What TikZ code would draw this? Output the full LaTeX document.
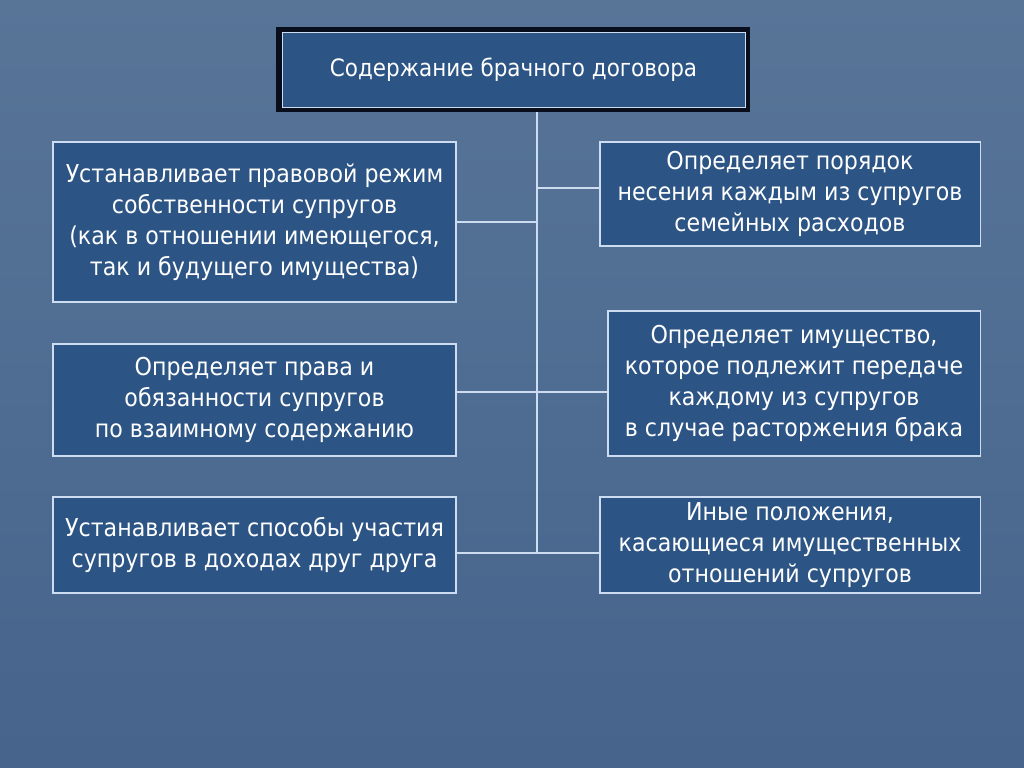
\documentclass[tikz,border=0pt]{standalone}
\usepackage{fontspec}
\setmainfont[FakeStretch=0.9]{DejaVu Sans}
\usetikzlibrary{calc}

\definecolor{slidetop}{RGB}{88,117,152}
\definecolor{slidebot}{RGB}{70,100,140}
\definecolor{boxfill}{RGB}{44,84,132}
\definecolor{boxline}{RGB}{205,220,240}
\definecolor{titleframe}{RGB}{8,14,28}

\tikzset{
  itembox/.style={draw=boxline, line width=0.8pt, fill=boxfill, text=white,
    align=center, inner sep=0pt, font=\fontsize{17.5}{22}\selectfont},
  titlebox/.style={itembox, line width=0.5pt, font=\fontsize{17}{20}\selectfont},
  link/.style={draw=boxline, line width=1pt}
}

\begin{document}
\begin{tikzpicture}[x=0.025cm, y=-0.025cm]
    % slide background
    \shade[top color=slidetop, bottom color=slidebot] (0,0) rectangle (1024,768);
    \useasboundingbox (0,0) rectangle (1024,768);

    % title with dark frame
    \fill[titleframe] (276,27) rectangle (750,112);
    \node[titlebox, minimum width=11.575cm, minimum height=1.875cm] (title) at (513.5,69.5) {Содержание брачного договора};

    % left column
    \node[itembox, minimum width=10.075cm, minimum height=4cm] (l1) at (254.5,222)
        {Устанавливает правовой режим\\собственности супругов\\(как в отношении имеющегося,\\так и будущего имущества)};
    \node[itembox, minimum width=10.075cm, minimum height=2.8cm] (l2) at (254.5,400)
        {Определяет права и\\обязанности супругов\\по взаимному содержанию};
    \node[itembox, minimum width=10.075cm, minimum height=2.4cm] (l3) at (254.5,545)
        {Устанавливает способы участия\\супругов в доходах друг друга};

    % right column
    \node[itembox, minimum width=9.5cm, minimum height=2.6cm] (r1) at (790,194)
        {Определяет порядок\\несения каждым из супругов\\семейных расходов};
    \node[itembox, minimum width=9.3cm, minimum height=3.625cm] (r2) at (794,383.5)
        {Определяет имущество,\\которое подлежит передаче\\каждому из супругов\\в случае расторжения брака};
    \node[itembox, minimum width=9.5cm, minimum height=2.4cm] (r3) at (790,545)
        {Иные положения,\\касающиеся имущественных\\отношений супругов};

    % trunk and branches
    \coordinate (top) at (537,112);
    \coordinate (j1) at (537,188);
    \coordinate (j2) at (537,392);
    \coordinate (j3) at (537,553);
    \draw[link] (top) -- (j3);
    \draw[link] (l1.east) -- (l1.east -| top);
    \draw[link] (j1) -- (j1 -| r1.west);
    \draw[link] (j2 -| l2.east) -- (j2 -| r2.west);
    \draw[link] (j3 -| l3.east) -- (j3 -| r3.west);
\end{tikzpicture}
\end{document}
